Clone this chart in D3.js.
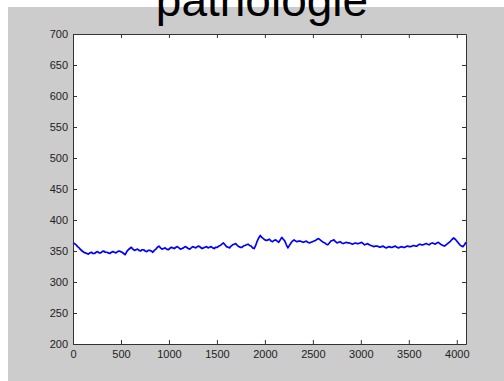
<!DOCTYPE html>
<html>
<head>
<meta charset="utf-8">
<script src="https://cdn.jsdelivr.net/npm/d3@7"></script>
<style>
  body { margin: 0; background: #fff; }
  svg { display: block; }
  text { font-family: "Liberation Sans", Arial, sans-serif; }
</style>
</head>
<body>
<div id="chart"></div>
<script>
// Signal samples, one every 16 points (0 .. 4096)
const step = 16;
const signal = [
  363, 362, 360, 357, 355, 352, 350, 348, 347, 346, 345, 347, 348, 346, 346, 348, 349, 347, 347, 349,
  350, 348, 348, 347, 346, 348, 349, 348, 347, 349, 350, 349, 348, 346, 344, 349, 352, 354, 356, 353,
  351, 352, 353, 351, 350, 352, 352, 350, 349, 351, 351, 350, 348, 351, 353, 356, 358, 355, 353, 354,
  355, 353, 352, 354, 356, 355, 354, 356, 357, 355, 353, 354, 355, 357, 356, 354, 353, 355, 357, 356,
  355, 357, 358, 356, 354, 355, 356, 357, 355, 356, 357, 355, 354, 356, 356, 358, 359, 361, 363, 360,
  357, 356, 355, 358, 360, 361, 362, 359, 357, 356, 356, 358, 359, 360, 361, 359, 358, 355, 354, 359,
  366, 371, 375, 372, 370, 368, 367, 368, 369, 366, 365, 367, 368, 366, 364, 368, 372, 369, 366, 360,
  355, 359, 363, 366, 368, 366, 365, 366, 366, 365, 364, 365, 366, 364, 363, 364, 365, 366, 367, 369,
  370, 368, 366, 364, 363, 361, 360, 363, 366, 367, 368, 365, 363, 364, 365, 363, 362, 363, 364, 363,
  363, 362, 361, 362, 363, 362, 362, 363, 364, 362, 360, 361, 362, 360, 359, 358, 357, 358, 358, 357,
  356, 357, 358, 356, 355, 356, 357, 356, 356, 357, 358, 356, 355, 356, 357, 356, 356, 357, 358, 357,
  357, 358, 359, 358, 358, 360, 361, 360, 360, 361, 362, 361, 360, 362, 363, 362, 361, 363, 364, 362,
  360, 359, 358, 360, 362, 364, 366, 369, 371, 369, 366, 363, 360, 358, 357, 360, 364
];
const xTicks = [0, 500, 1000, 1500, 2000, 2500, 3000, 3500, 4000];
const yTicks = [200, 250, 300, 350, 400, 450, 500, 550, 600, 650, 700];
const xDomain = [0, 4096];
const yDomain = [200, 700];
const title = "pathologie";

const W = 504, H = 381;
const box = {left: 73, top: 34, right: 466, bottom: 344};

const svg = d3.select("#chart").append("svg")
    .attr("width", W).attr("height", H);

// grey figure background
svg.append("rect")
    .attr("x", 8).attr("y", 7)
    .attr("width", W - 8).attr("height", H - 7)
    .attr("fill", "#cccccc");

const x = d3.scaleLinear().domain(xDomain).range([box.left, box.right]);
const y = d3.scaleLinear().domain(yDomain).range([box.bottom, box.top]);

// white axes area
svg.append("rect")
    .attr("x", box.left).attr("y", box.top)
    .attr("width", box.right - box.left).attr("height", box.bottom - box.top)
    .attr("fill", "#fff");

// the trace
const line = d3.line()
    .x((d, i) => x(i * step))
    .y(d => y(d));

svg.append("path")
    .datum(signal)
    .attr("d", line)
    .attr("fill", "none")
    .attr("stroke", "#0000ff")
    .attr("stroke-width", 1.7)
    .attr("stroke-linejoin", "round");

// axes with inward ticks on all four sides (matlab style)
const fmt = d3.format("d");
const tickStyle = g => {
    g.select(".domain").attr("stroke", "#333");
    g.selectAll(".tick line").attr("stroke", "#333");
    g.selectAll(".tick text").attr("fill", "#222").style("font-size", "11px");
};

svg.append("g")
    .attr("transform", `translate(0,${box.bottom})`)
    .call(d3.axisBottom(x).tickValues(xTicks).tickFormat(fmt).tickSizeInner(-4).tickSizeOuter(0).tickPadding(6))
    .call(tickStyle);

svg.append("g")
    .attr("transform", `translate(0,${box.top})`)
    .call(d3.axisTop(x).tickValues(xTicks).tickSizeInner(-4).tickSizeOuter(0).tickFormat(""))
    .call(tickStyle);

svg.append("g")
    .attr("transform", `translate(${box.left},0)`)
    .call(d3.axisLeft(y).tickValues(yTicks).tickFormat(fmt).tickSizeInner(-4).tickSizeOuter(0).tickPadding(5))
    .call(tickStyle);

svg.append("g")
    .attr("transform", `translate(${box.right},0)`)
    .call(d3.axisRight(y).tickValues(yTicks).tickSizeInner(-4).tickSizeOuter(0).tickFormat(""))
    .call(tickStyle);

// title, partly cut off by the top edge as in the original
svg.append("text")
    .attr("x", 262).attr("y", 16)
    .attr("text-anchor", "middle")
    .style("font-size", "46px")
    .attr("fill", "#000")
    .text(title);
</script>
</body>
</html>
